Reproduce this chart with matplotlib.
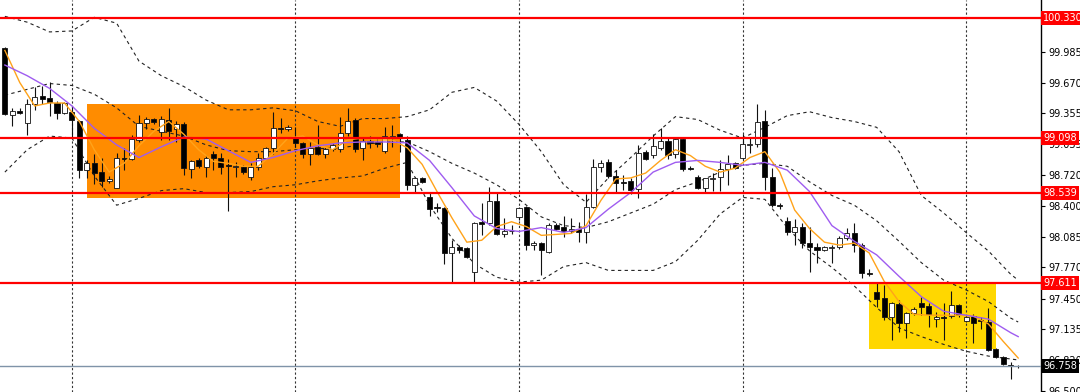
import numpy as np
import matplotlib
matplotlib.use("Agg")
import matplotlib.pyplot as plt
from matplotlib.patches import Rectangle

# candles (bar index 0..136)
opens = [100.03, 99.34, 99.38, 99.25, 99.45, 99.53, 99.51, 99.46, 99.36, 99.37,
         99.27, 98.77, 98.84, 98.75, 98.66, 98.59, 98.90, 98.88, 99.08, 99.25,
         99.30, 99.16, 99.29, 99.19, 99.24, 98.78, 98.87, 98.80, 98.94, 98.90,
         98.82, 98.80, 98.80, 98.70, 98.80, 98.90, 99.00, 99.20, 99.19, 99.11,
         99.05, 98.94, 99.01, 98.94, 98.99, 98.99, 99.15, 99.29, 99.00, 99.07,
         99.06, 98.97, 99.11, 99.14, 99.08, 98.62, 98.69, 98.49, 98.39, 98.38,
         97.92, 97.98, 97.97, 97.72, 98.24, 98.23, 98.45, 98.11, 98.15, 98.29,
         98.39, 98.00, 98.02, 97.93, 98.21, 98.19, 98.15, 98.17, 98.13, 98.39,
         98.80, 98.85, 98.71, 98.65, 98.66, 98.58, 98.96, 98.93, 99.00, 99.07,
         98.94, 99.09, 98.79, 98.70, 98.59, 98.68, 98.70, 98.78, 98.84, 98.89,
         99.03, 99.04, 99.27, 98.70, 98.41, 98.25, 98.13, 98.19, 98.02, 97.98,
         97.95, 97.97, 97.98, 98.07, 98.12, 98.00, 97.71, 97.52, 97.46, 97.26,
         97.40, 97.20, 97.30, 97.41, 97.37, 97.24, 97.26, 97.27, 97.38, 97.22,
         97.27, 97.23, 97.21, 96.93, 96.85, 96.77, 96.76]
highs = [100.04, 99.41, 99.41, 99.50, 99.62, 99.63, 99.68, 99.48, 99.47, 99.43,
         99.29, 98.87, 98.94, 98.90, 98.71, 98.95, 99.00, 99.13, 99.34, 99.32,
         99.31, 99.33, 99.41, 99.28, 99.26, 98.87, 98.89, 98.93, 98.97, 98.95,
         98.88, 98.85, 98.82, 98.84, 98.95, 99.01, 99.37, 99.31, 99.23, 99.21,
         99.06, 99.06, 99.23, 99.01, 99.05, 99.32, 99.41, 99.31, 99.11, 99.12,
         99.10, 99.21, 99.23, 99.15, 99.12, 98.70, 98.70, 98.54, 98.43, 98.39,
         98.05, 98.00, 97.98, 98.24, 98.43, 98.60, 98.55, 98.28, 98.21, 98.39,
         98.40, 98.04, 98.03, 98.23, 98.23, 98.30, 98.28, 98.24, 98.52, 98.88,
         98.87, 98.88, 98.77, 98.72, 98.69, 99.03, 98.98, 99.14, 99.20, 99.11,
         99.10, 99.10, 98.81, 98.72, 98.69, 98.74, 98.87, 98.93, 98.85, 99.14,
         99.10, 99.45, 99.39, 98.79, 98.43, 98.29, 98.27, 98.23, 98.19, 98.02,
         97.99, 98.00, 98.09, 98.18, 98.23, 98.02, 97.75, 97.62, 97.59, 97.42,
         97.44, 97.31, 97.36, 97.47, 97.41, 97.31, 97.41, 97.53, 97.40, 97.28,
         97.29, 97.26, 97.35, 96.94, 96.86, 96.80, 96.77]
lows = [99.34, 99.22, 99.35, 99.13, 99.39, 99.45, 99.33, 99.30, 99.35, 99.11,
        98.69, 98.69, 98.63, 98.60, 98.64, 98.59, 98.77, 98.87, 99.06, 99.19,
        99.24, 99.08, 99.08, 99.06, 98.72, 98.69, 98.79, 98.70, 98.77, 98.73,
        98.35, 98.70, 98.73, 98.67, 98.77, 98.88, 98.94, 99.15, 99.17, 99.01,
        98.89, 98.82, 98.93, 98.90, 98.97, 98.96, 99.12, 98.96, 98.87, 99.00,
        99.01, 98.95, 99.01, 98.96, 98.57, 98.55, 98.64, 98.30, 98.34, 97.81,
        97.61, 97.92, 97.87, 97.62, 98.10, 98.21, 98.10, 98.08, 98.11, 98.26,
        97.95, 97.95, 97.69, 97.92, 98.16, 98.08, 98.12, 98.03, 98.02, 98.38,
        98.75, 98.69, 98.55, 98.57, 98.52, 98.48, 98.87, 98.90, 98.98, 98.88,
        98.89, 98.76, 98.77, 98.58, 98.55, 98.56, 98.56, 98.62, 98.78, 98.88,
        98.95, 99.01, 98.57, 98.39, 98.37, 98.10, 98.00, 97.97, 97.72, 97.82,
        97.94, 97.82, 97.96, 98.05, 97.93, 97.66, 97.68, 97.36, 97.23, 97.03,
        97.11, 97.05, 97.28, 97.28, 97.16, 97.16, 97.03, 97.25, 97.26, 97.21,
        96.99, 97.14, 96.91, 96.84, 96.77, 96.62, 96.74]
closes = [99.35, 99.38, 99.36, 99.45, 99.52, 99.50, 99.47, 99.36, 99.46, 99.29,
          98.77, 98.84, 98.74, 98.66, 98.68, 98.90, 98.88, 99.09, 99.25, 99.30,
          99.26, 99.30, 99.17, 99.24, 98.79, 98.86, 98.81, 98.89, 98.90, 98.80,
          98.81, 98.81, 98.75, 98.80, 98.90, 99.00, 99.20, 99.19, 99.21, 99.05,
          98.94, 99.00, 98.94, 98.99, 99.03, 99.15, 99.27, 98.99, 99.07, 99.05,
          99.04, 99.12, 99.12, 99.10, 98.62, 98.69, 98.65, 98.37, 98.38, 97.92,
          97.98, 97.95, 97.88, 98.23, 98.22, 98.45, 98.11, 98.15, 98.14, 98.38,
          98.00, 98.02, 97.95, 98.21, 98.17, 98.15, 98.17, 98.13, 98.39, 98.80,
          98.84, 98.71, 98.64, 98.64, 98.57, 98.95, 98.88, 99.02, 99.07, 98.93,
          99.09, 98.78, 98.78, 98.59, 98.69, 98.69, 98.78, 98.83, 98.79, 99.04,
          99.04, 99.26, 98.70, 98.41, 98.40, 98.13, 98.19, 98.02, 97.98, 97.95,
          97.98, 97.98, 98.07, 98.12, 98.00, 97.71, 97.70, 97.45, 97.26, 97.41,
          97.20, 97.30, 97.34, 97.36, 97.29, 97.26, 97.25, 97.38, 97.28, 97.26,
          97.20, 97.22, 96.92, 96.85, 96.78, 96.76, 96.758]

# fast MA (orange), read every 2 bars
orange_idx = list(range(0, 137, 2))
orange_ma = [100.00, 99.67, 99.43, 99.46, 99.46, 99.27, 98.98, 98.75, 98.84, 99.02,
             99.17, 99.27, 99.14, 98.98, 98.86, 98.84, 98.81, 98.81, 98.94, 99.10,
             99.12, 99.03, 98.98, 99.08, 99.10, 99.08, 99.08, 99.00, 98.83, 98.55,
             98.28, 98.03, 98.05, 98.19, 98.24, 98.19, 98.10, 98.11, 98.12, 98.20,
             98.46, 98.68, 98.69, 98.74, 98.87, 98.98, 98.92, 98.81, 98.75, 98.79,
             98.90, 98.96, 98.75, 98.36, 98.17, 98.03, 98.00, 98.02, 97.92, 97.63,
             97.42, 97.29, 97.28, 97.28, 97.28, 97.27, 97.19, 97.01, 96.84]

# slow MA and bollinger bands, read every 3 bars
line_idx = list(range(0, 136, 3)) + [136]
purple_ma = [99.85, 99.74, 99.61, 99.43, 99.20, 99.03, 98.90, 99.01, 99.11, 99.09,
             98.97, 98.85, 98.90, 98.97, 99.02, 99.05, 99.06, 99.06, 99.05, 98.87,
             98.59, 98.30, 98.17, 98.14, 98.18, 98.13, 98.18, 98.37, 98.54, 98.75,
             98.85, 98.87, 98.85, 98.82, 98.85, 98.77, 98.55, 98.20, 98.04, 97.90,
             97.68, 97.47, 97.32, 97.28, 97.24, 97.10, 97.06]
bb_upper = [100.35, 100.29, 100.19, 100.20, 100.34, 100.28, 99.89, 99.74, 99.63, 99.49,
            99.39, 99.39, 99.41, 99.38, 99.27, 99.22, 99.30, 99.30, 99.32, 99.39,
            99.57, 99.62, 99.48, 99.24, 98.96, 98.62, 98.44, 98.69, 98.90, 99.12,
            99.32, 99.29, 99.18, 99.10, 99.21, 99.33, 99.37, 99.31, 99.27, 99.21,
            98.96, 98.51, 98.33, 98.13, 97.94, 97.70, 97.64]
bb_middle = [99.54, 99.60, 99.66, 99.64, 99.55, 99.41, 99.22, 99.17, 99.12, 99.03,
             98.97, 98.96, 98.96, 98.98, 98.99, 99.00, 99.03, 99.06, 99.06, 98.96,
             98.84, 98.74, 98.62, 98.47, 98.29, 98.20, 98.18, 98.24, 98.33, 98.42,
             98.57, 98.65, 98.75, 98.82, 98.84, 98.81, 98.65, 98.51, 98.41, 98.25,
             98.04, 97.82, 97.64, 97.54, 97.42, 97.25, 97.21]
bb_lower = [98.75, 98.98, 99.12, 99.10, 98.71, 98.41, 98.48, 98.56, 98.58, 98.54,
            98.54, 98.55, 98.60, 98.62, 98.66, 98.69, 98.71, 98.79, 98.85, 98.41,
            98.07, 97.81, 97.67, 97.62, 97.64, 97.78, 97.82, 97.74, 97.74, 97.74,
            97.83, 98.05, 98.32, 98.49, 98.47, 98.18, 97.94, 97.77, 97.58, 97.36,
            97.15, 97.06, 96.98, 96.91, 96.86, 96.83, 96.82]

red_levels = [100.330, 99.098, 98.539, 97.611]
last_price = 96.758
grid_bars = [9, 39, 69, 99, 129]
# zones: (first bar, last bar, low price, high price, colour)
zones = [(11, 53, 98.48, 99.45, "#ff8c00"),
         (116, 133, 96.93, 97.62, "#ffd700")]
yticks = [100.300, 99.985, 99.670, 99.355, 99.035, 98.720, 98.400,
          98.085, 97.770, 97.450, 97.135, 96.820, 96.500]

fig = plt.figure(figsize=(10.8, 3.92), dpi=100)
ax = fig.add_axes([0, 0, 1041 / 1080, 1])
ax.set_xlim(-0.654, 139.06)
ax.set_ylim(96.491, 100.518)

for x0, x1, y0, y1, col in zones:
    ax.add_patch(Rectangle((x0, y0), x1 - x0, y1 - y0, facecolor=col,
                           edgecolor="none", zorder=0))

for g in grid_bars:
    ax.axvline(g, color="#333333", lw=0.8, ls=(0, (2, 2)), zorder=1)

for band in (bb_upper, bb_middle, bb_lower):
    ax.plot(line_idx, band, color="#222222", lw=0.8, ls=(0, (3, 3)), zorder=2)

o = np.array(opens)
c = np.array(closes)
idx = np.arange(len(c))
ax.vlines(idx, lows, highs, color="#111111", lw=0.8, zorder=3)
body_lo = np.minimum(o, c)
body_h = np.maximum(np.abs(c - o), 0.003)
cols = np.where(c > o, "white", "black")
ax.bar(idx, body_h, bottom=body_lo, width=0.68, color=cols,
       edgecolor="#111111", linewidth=0.6, zorder=4)

ax.plot(orange_idx, orange_ma, color="#ffa31a", lw=1.0, zorder=5)
ax.plot(line_idx, purple_ma, color="#9f5cf0", lw=1.0, zorder=5)

for lv in red_levels:
    ax.axhline(lv, color="#ff0000", lw=1.6, zorder=6)
ax.axhline(last_price, color="#7f93a8", lw=1.0, zorder=6)

ax.set_xticks([])
ax.yaxis.tick_right()
ax.set_yticks(yticks)
ax.set_yticklabels([f"{t:.3f}" for t in yticks])
ax.tick_params(axis="y", length=3, width=0.8, pad=2, labelsize=7,
               direction="out", colors="black")
for s in ("top", "left", "bottom"):
    ax.spines[s].set_visible(False)
ax.spines["right"].set_linewidth(1.0)

for lv in red_levels:
    ax.annotate(f"{lv:.3f}", xy=(1, lv), xycoords=("axes fraction", "data"),
                xytext=(1.5, 0), textcoords="offset points", ha="left",
                va="center", fontsize=7, color="white", annotation_clip=False,
                bbox=dict(boxstyle="square,pad=0.2", fc="#ff0000", ec="none"),
                zorder=10)
ax.annotate(f"{last_price:.3f}", xy=(1, last_price),
            xycoords=("axes fraction", "data"), xytext=(1.5, 0),
            textcoords="offset points", ha="left", va="center", fontsize=7,
            color="white", annotation_clip=False,
            bbox=dict(boxstyle="square,pad=0.2", fc="black", ec="none"),
            zorder=10)

fig.savefig("out.png", dpi=100)
